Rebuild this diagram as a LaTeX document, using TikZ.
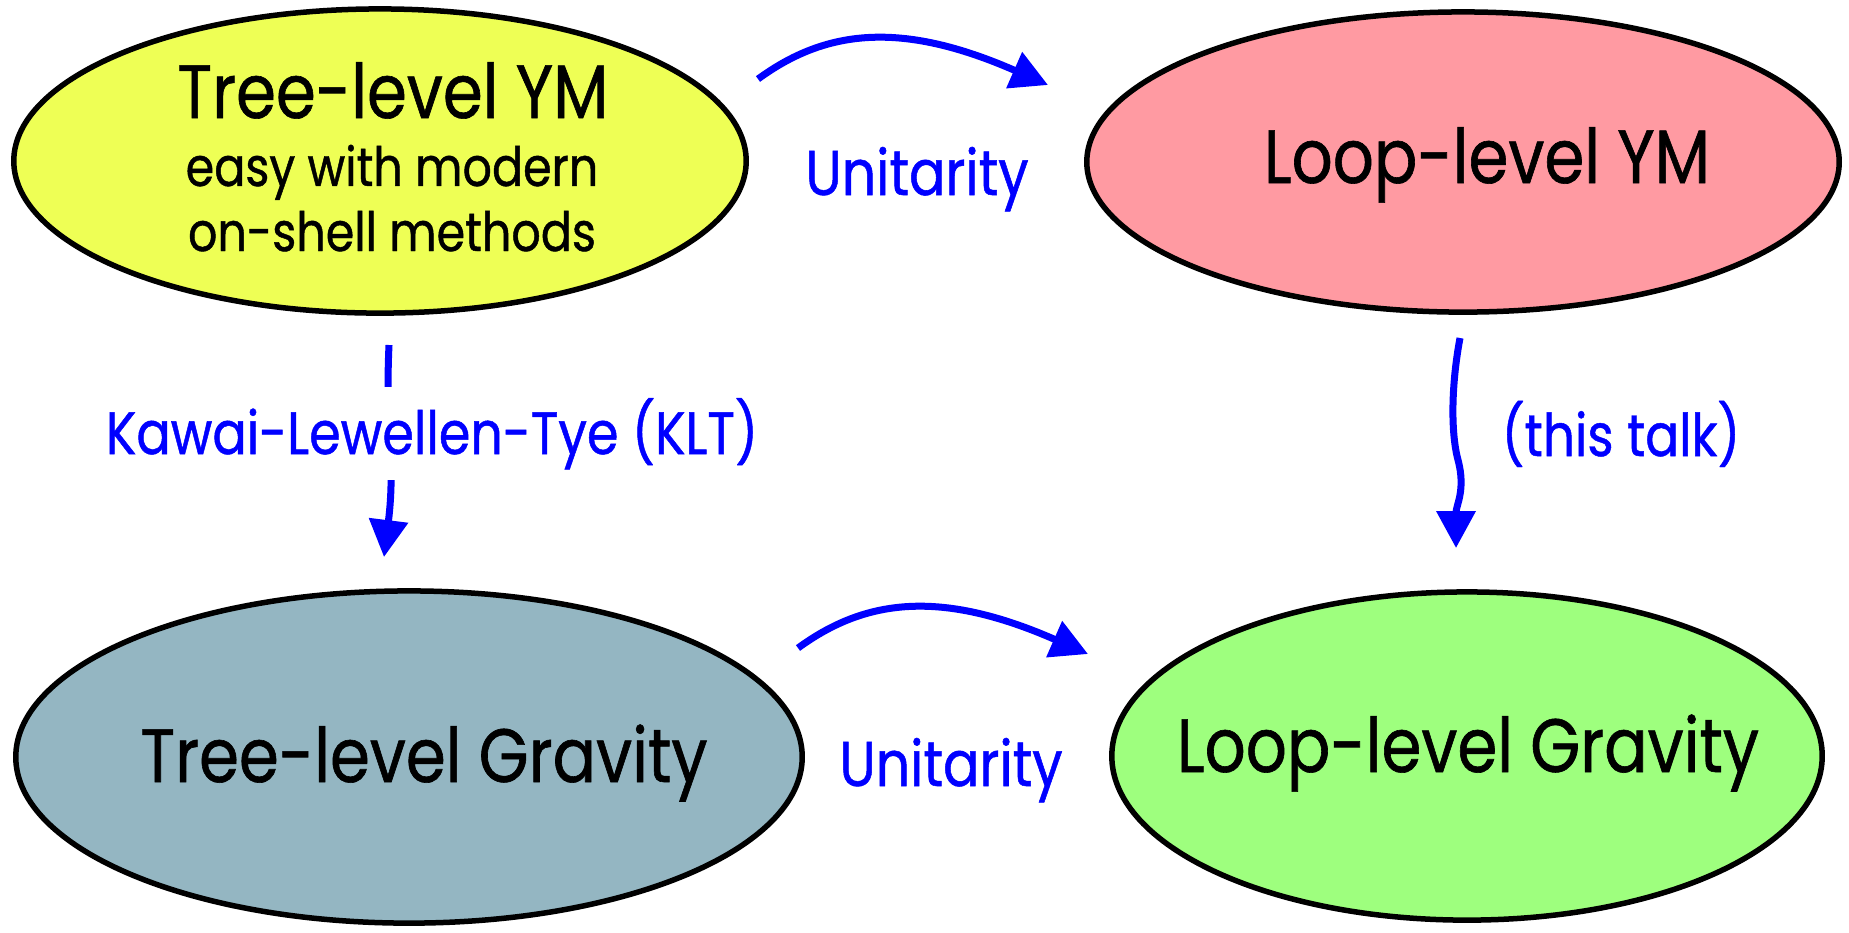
\documentclass[tikz,border=0pt]{standalone}
\usepackage{fontspec}
\setmainfont{Poppins}[FakeStretch=0.85, FakeBold=0.8]
\usepackage{xcolor}
\usetikzlibrary{arrows.meta, shapes.geometric}

\definecolor{treeyellow}{HTML}{EEFF55}
\definecolor{looppink}{HTML}{FF9AA2}
\definecolor{gravgrey}{HTML}{94B6C2}
\definecolor{gravgreen}{HTML}{9EFF7E}
\definecolor{arrowblue}{HTML}{0000FF}

\begin{document}
\begin{tikzpicture}[
  x=0.01cm, y=-0.01cm,
  blob/.style={draw=black, ellipse, line width=0.055cm, inner sep=0pt, outer sep=0pt},
  title/.style={anchor=base, font=\fontsize{21.5}{26}\selectfont},
  sub/.style={anchor=base, font=\fontsize{15.4}{18.5}\selectfont, align=center},
  tag/.style={anchor=base, text=arrowblue, font=\fontsize{18}{22}\selectfont},
  arrow/.style={-{Triangle[length=0.37cm, width=0.38cm]}, draw=arrowblue, line width=0.07cm}
]
  \useasboundingbox (0,0) rectangle (1849,932);

  % the four amplitudes
  \node[blob, fill=treeyellow, minimum width=7.32cm, minimum height=3.04cm] (treeYM) at (380,161) {};
  \node[blob, fill=looppink, minimum width=7.52cm, minimum height=3.00cm] (loopYM) at (1463,162) {};
  \node[blob, fill=gravgrey, minimum width=7.86cm, minimum height=3.32cm] (treeGr) at (409,757) {};
  \node[blob, fill=gravgreen, minimum width=7.10cm, minimum height=3.28cm] (loopGr) at (1467,756) {};

  \node[title] (treeYMtxt) at ([shift={(13,-43)}]treeYM.center) {Tree-level YM};
  \node[sub] (treeYMsub) at ([shift={(12,90)}]treeYM.center) {easy with modern\\ on-shell methods};
  \node[title] (loopYMtxt) at ([shift={(24,21)}]loopYM.center) {Loop-level YM};
  \node[title] (treeGrtxt) at ([shift={(15,25)}]treeGr.center) {Tree-level Gravity};
  \node[title] (loopGrtxt) at ([shift={(1,16)}]loopGr.center) {Loop-level Gravity};

  % arrow ends
  \coordinate (uniTopS) at (758,79);
  \coordinate (uniTopE) at (1048,85);
  \coordinate (uniBotS) at (798,648);
  \coordinate (uniBotE) at (1088,654);
  \coordinate (kltS) at (389,345);
  \coordinate (kltE) at (384,557);
  \coordinate (talkS) at (1460,338);
  \coordinate (talkE) at (1456,548);

  \draw[arrow] (uniTopS) .. controls (825,30) and (900,20) .. (uniTopE);
  \draw[arrow] (uniBotS) .. controls (865,599) and (940,589) .. (uniBotE);
  \draw[arrow] (kltS) .. controls (385,430) and (396,460) .. (kltE);
  \draw[arrow] (talkS) .. controls (1452,380) and (1450,430) .. (1458,460)
    .. controls (1466,490) and (1456,505) .. (talkE);

  \node[tag] (uniTop) at (917,195) {Unitarity};
  \node[tag] (uniBot) at (951,786) {Unitarity};
  \node[tag, font=\fontsize{17}{21}\selectfont, fill=white, inner ysep=0.11cm] (klt) at (432,454) {Kawai-Lewellen-Tye (KLT)};
  \node[tag, font=\fontsize{16.8}{21}\selectfont] (talk) at (1621,456) {(this talk)};
\end{tikzpicture}
\end{document}
